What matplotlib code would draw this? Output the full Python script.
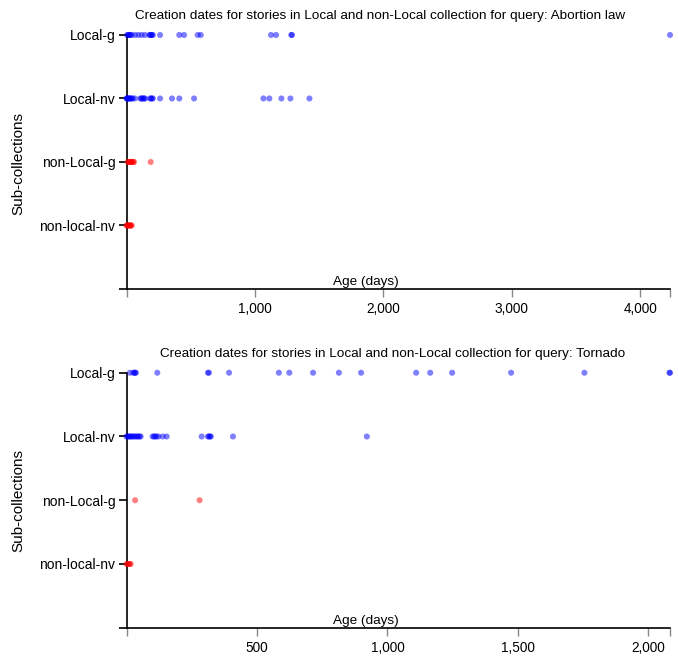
import matplotlib
matplotlib.use("Agg")
import matplotlib.pyplot as plt

plt.rcParams['font.family'] = ['Liberation Sans', 'DejaVu Sans']

categories = ['non-local-nv', 'non-Local-g', 'Local-nv', 'Local-g']

# query 1: Abortion law (age in days per sub-collection)
abortion_title = 'Creation dates for stories in Local and non-Local collection for query: Abortion law'
abortion_xmax = 4231
abortion_ticks = [0, 1000, 2000, 3000, 4000, abortion_xmax]
abortion_ticklabels = ['', '1,000', '2,000', '3,000', '4,000', '']
abortion_local_g = [5, 12, 18, 25, 32, 40, 66, 92, 118, 144, 178, 185, 192, 198, 205,
                    261, 411, 448, 554, 578, 1125, 1164, 1283, 1288, 4231]
abortion_local_nv = [0, 4, 8, 12, 16, 22, 28, 35, 42, 48, 66, 108, 115, 122, 130, 138, 144,
                     183, 190, 198, 205, 261, 354, 411, 526, 1066, 1112, 1206, 1276, 1424]
abortion_nonlocal_g = [10, 16, 22, 28, 34, 40, 46, 52, 58, 188]
abortion_nonlocal_nv = [0, 5, 10, 15, 20, 25, 30, 35, 40]

# query 2: Tornado
tornado_title = 'Creation dates for stories in Local and non-Local collection for query: Tornado'
tornado_xmax = 2083
tornado_ticks = [0, 500, 1000, 1500, 2000, tornado_xmax]
tornado_ticklabels = ['', '500', '1,000', '1,500', '2,000', '']
tornado_local_g = [13, 26, 30, 33, 36, 118, 312, 316, 393, 584, 624, 715, 814, 899,
                   1110, 1164, 1248, 1474, 1755, 2081, 2083]
tornado_local_nv = [0, 4, 8, 12, 16, 20, 25, 30, 35, 40, 45, 50, 54, 100, 105, 110, 115, 122,
                    139, 154, 288, 312, 316, 320, 323, 408, 921]
tornado_nonlocal_g = [33, 280]
tornado_nonlocal_nv = [0, 4, 8, 12, 16]


def draw_panel(ax, title, series, xmax, ticks, ticklabels):
    colors = ['#ff0000', '#ff0000', '#0000ff', '#0000ff']
    for i, (vals, c) in enumerate(zip(series, colors)):
        ax.scatter(vals, [i + 1] * len(vals), s=19, color=c, alpha=0.5,
                   edgecolors='none', clip_on=False, zorder=3)
    ax.set_xlim(0, xmax)
    ax.set_ylim(0, 4)
    ax.set_yticks([0, 1, 2, 3, 4])
    ax.set_yticklabels([''] + categories, fontsize=10)
    ax.set_xticks(ticks)
    ax.set_xticklabels(ticklabels, fontsize=9.8)
    ax.tick_params(axis='y', length=6, width=1.2, pad=2, color='black')
    ax.tick_params(axis='x', length=6, width=1, pad=3.5, color='#888888')
    for s in ['top', 'right']:
        ax.spines[s].set_visible(False)
    for s in ['left', 'bottom']:
        ax.spines[s].set_linewidth(1.2)
    ax.annotate(title, xy=(0.917, 1.0), xycoords='axes fraction',
                xytext=(0, 19), textcoords='offset pixels', ha='right', va='center',
                fontsize=9.7)
    ax.annotate('Age (days)', xy=(0.38, 0), xycoords='axes fraction',
                xytext=(0, 1), textcoords='offset pixels', ha='left', va='bottom',
                fontsize=9.7)


fig = plt.figure(figsize=(6.78, 6.56), dpi=100)
ax1 = fig.add_axes([0.1866, 0.5595, 0.8016, 0.3872])
ax2 = fig.add_axes([0.1866, 0.0431, 0.8016, 0.3887])

draw_panel(ax1, abortion_title,
           [abortion_nonlocal_nv, abortion_nonlocal_g, abortion_local_nv, abortion_local_g],
           abortion_xmax, abortion_ticks, abortion_ticklabels)
draw_panel(ax2, tornado_title,
           [tornado_nonlocal_nv, tornado_nonlocal_g, tornado_local_nv, tornado_local_g],
           tornado_xmax, tornado_ticks, tornado_ticklabels)

fig.text(18 / 678, 1 - 163 / 656, 'Sub-collections', rotation=90, ha='center', va='center',
         fontsize=11)
fig.text(18 / 678, 1 - 500 / 656, 'Sub-collections', rotation=90, ha='center', va='center',
         fontsize=11)

fig.savefig('out.png', dpi=100)
